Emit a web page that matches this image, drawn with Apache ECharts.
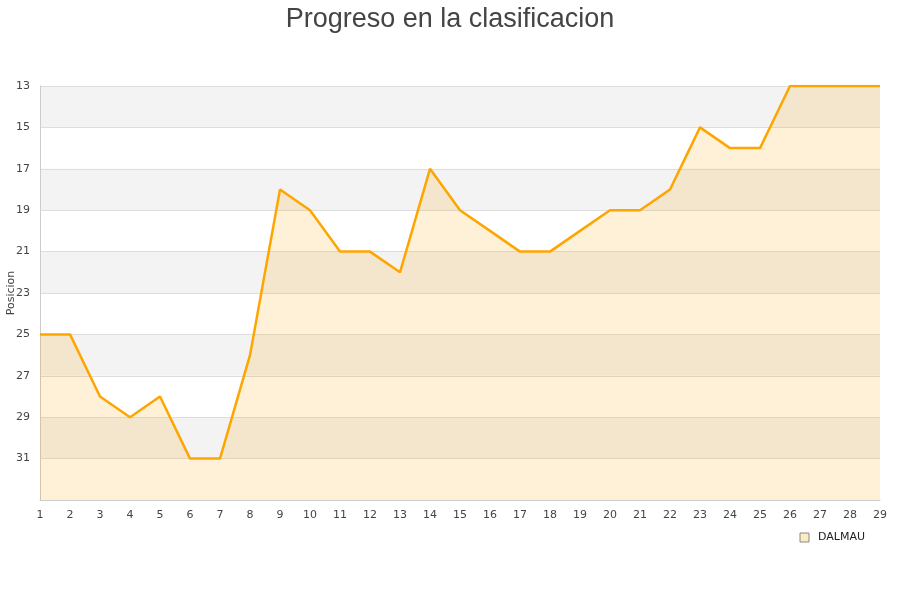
<!DOCTYPE html>
<html><head><meta charset="utf-8">
<script src="https://cdn.jsdelivr.net/npm/echarts@6/dist/echarts.min.js"></script>
<style>html,body{margin:0;padding:0;background:#fff}#c{width:900px;height:600px}</style>
</head><body><div id="c"></div>
<script>
const jornadas = ['1','2','3','4','5','6','7','8','9','10','11','12','13','14','15','16','17','18','19','20','21','22','23','24','25','26','27','28','29'];
const posiciones = [25,25,28,29,28,31,31,26,18,19,21,21,22,17,19,20,21,21,20,19,19,18,15,16,16,13,13,13,13];
const seriesName = 'DALMAU';
const chart = echarts.init(document.getElementById('c'));
chart.setOption({
  animation:false,
  title:{text:'Progreso en la clasificacion',left:'center',top:1,textStyle:{fontFamily:'Liberation Sans',fontSize:27,fontWeight:'normal',color:'#444'}},
  legend:{right:30,top:527,itemWidth:9,itemHeight:9,icon:'rect',itemGap:10,
    textStyle:{fontFamily:'DejaVu Sans',fontSize:11,color:'#222',padding:[0,0,0,4]},
    data:[{name:seriesName,itemStyle:{color:'#fdebc6',borderColor:'#888',borderWidth:1}}]},
  grid:{left:40,right:20,top:86,bottom:100,containLabel:false,outerBoundsMode:'none'},
  xAxis:{type:'category',boundaryGap:false,data:jornadas,
    axisLine:{lineStyle:{color:'#ccc'}},axisTick:{show:false},
    axisLabel:{fontFamily:'DejaVu Sans',fontSize:11,color:'#444',margin:10},
    splitLine:{show:false}},
  yAxis:{type:'value',inverse:true,min:13,max:33,interval:2,name:'Posicion',nameLocation:'middle',nameGap:23,nameMoveOverlap:false,
    nameTextStyle:{fontFamily:'DejaVu Sans',fontSize:11,color:'#444'},
    axisLine:{show:true,lineStyle:{color:'#ccc'}},axisTick:{show:false},
    axisLabel:{fontFamily:'DejaVu Sans',fontSize:11,color:'#444',margin:10,
      formatter:v=>v===33?'':String(v)},
    splitLine:{show:true,lineStyle:{color:'#ddd'}},
    splitArea:{show:true,areaStyle:{color:['#f3f3f3','#ffffff']}}},
  series:[{name:seriesName,type:'line',data:posiciones,showSymbol:false,symbol:'none',
    lineStyle:{color:'#ffa500',width:2.5},itemStyle:{color:'#ffa500'},
    areaStyle:{color:'rgba(255,165,0,0.22)',origin:'end'}}]
});
</script></body></html>
